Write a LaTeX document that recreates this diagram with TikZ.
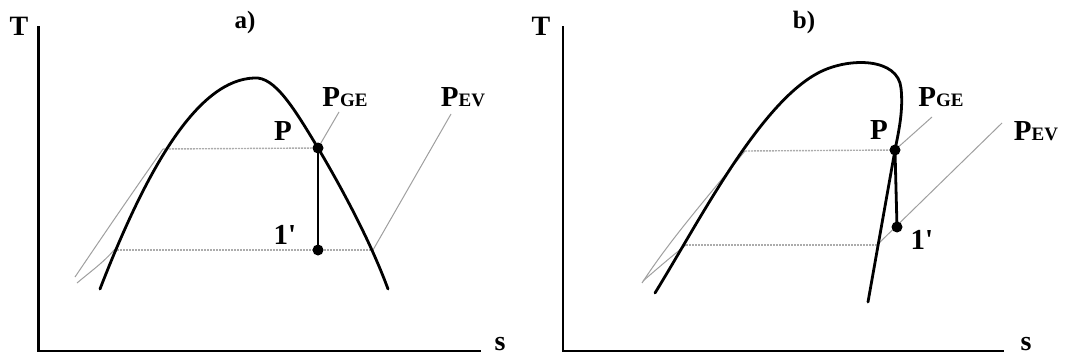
\documentclass[tikz,border=0pt]{standalone}
\usepackage{fontspec}
\setmainfont{Liberation Serif}
\newcommand{\plab}[1]{{\fontsize{29}{29}\selectfont P}{\fontsize{19}{19}\selectfont #1}}
\tikzset{
  axis/.style={line width=2.6pt, line cap=butt},
  dome/.style={line width=2.8pt, line cap=round, line join=round},
  iso/.style={line width=1pt, gray!75},
  dashiso/.style={line width=1.4pt, gray!65, dash pattern=on 2pt off 1pt},
  proc/.style={line width=2.8pt},
  dot/.style={circle, fill=black, inner sep=0pt, minimum size=11pt},
  lab/.style={font=\bfseries\fontsize{28}{28}\selectfont, inner sep=0pt},
  plabel/.style={font=\bfseries, inner sep=0pt},
}
\begin{document}
\begin{tikzpicture}[x=1pt,y=-1pt]
\useasboundingbox (0,0) rectangle (1068,356);
% ---------------- panel a ----------------
\coordinate (aO) at (38.5,351);
\coordinate (aTop) at (38.5,26);
\coordinate (aEnd) at (481,351);
\draw[axis] (aTop) -- (aO) -- (aEnd);
\node[lab] (aT) at (19,26) {T};
\node[lab] (as) at (500,344) {s};
\node[lab, font=\bfseries\fontsize{25}{25}\selectfont] (alab) at (245,22) {a)};
% isobars
\coordinate (aUL) at (163,149);
\coordinate (aLL) at (114,250);
\coordinate (aLR) at (373,250);
\coordinate (aGEend) at (339,112);
\coordinate (aEVend) at (451,114);
\coordinate (aPc) at (318,148);
\coordinate (a1c) at (318,250);
\draw[iso] (75,277) .. controls (100,240) and (130,196) .. (aUL);
\draw[iso] (77,283) .. controls (90,272) and (104,262) .. (aLL);
\draw[dashiso] (aUL) -- (aPc);
\draw[dashiso] (aLL) -- (aLR);
\draw[iso] (aPc) -- (aGEend);
\draw[iso] (aLR) -- (aEVend);
% dome
\draw[dome] (100,289) .. controls (150,160) and (200,80) .. (254,78)
  .. controls (275,76) and (295,110) .. (aPc)
  .. controls (340,185) and (370,240) .. (388,289);
\draw[proc] (aPc) -- (a1c);
\node[dot] (aP) at (aPc) {};
\node[dot] (a1) at (a1c) {};
\node[plabel] (aPl) at (283,131) {\fontsize{29}{29}\selectfont P};
\node[plabel] (aGE) at (345,97) {\plab{GE}};
\node[plabel] (aEV) at (463,97) {\plab{EV}};
\node[plabel] (a1l) at (285,235) {\fontsize{29}{29}\selectfont 1\textquotesingle};
% ---------------- panel b ----------------
\coordinate (bO) at (563,351);
\coordinate (bTop) at (563,26);
\coordinate (bEnd) at (1004,351);
\draw[axis] (bTop) -- (bO) -- (bEnd);
\node[lab] (bT) at (541,26) {T};
\node[lab] (bs) at (1026,344) {s};
\node[lab, font=\bfseries\fontsize{25}{25}\selectfont] (blab) at (804,22) {b)};
\coordinate (bUL) at (745,151);
\coordinate (bLL) at (686,245);
\coordinate (bLR) at (877,245);
\coordinate (bGEend) at (932,117);
\coordinate (bEVend) at (1002,123);
\coordinate (bPc) at (895,150);
\coordinate (b1c) at (897,227);
\draw[iso] (642,283) .. controls (670,240) and (705,200) .. (bUL);
\draw[iso] (643,281) .. controls (658,268) and (672,256) .. (bLL);
\draw[dashiso] (bUL) -- (bPc);
\draw[dashiso] (bLL) -- (bLR);
\draw[iso] (bPc) -- (bGEend);
\draw[iso] (bLR) -- (bEVend);
\draw[dome] (655,293) .. controls (700,220) and (760,102) .. (820,72)
  .. controls (850,57) and (898,58) .. (901,88)
  .. controls (903.4,110) and (899,130) .. (bPc) -- (868,302);
\draw[proc] (bPc) -- (b1c);
\node[dot] (bP) at (bPc) {};
\node[dot] (b1) at (b1c) {};
\node[plabel] (bPl) at (879,130) {\fontsize{29}{29}\selectfont P};
\node[plabel] (bGE) at (941,97) {\plab{GE}};
\node[plabel] (bEV) at (1036,131) {\plab{EV}};
\node[plabel] (b1l) at (922,240) {\fontsize{29}{29}\selectfont 1\textquotesingle};
\end{tikzpicture}
\end{document}
